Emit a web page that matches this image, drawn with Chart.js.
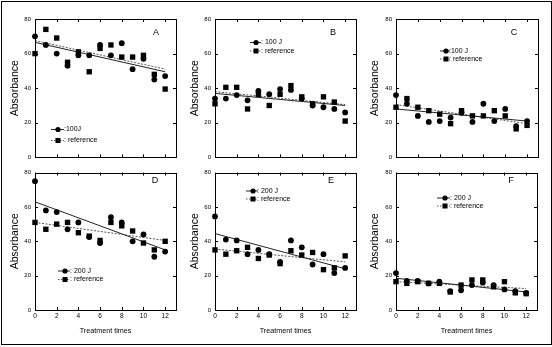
<!DOCTYPE html>
<html><head><meta charset="utf-8">
<script src="https://cdn.jsdelivr.net/npm/chart.js@4/dist/chart.umd.min.js"></script>
<style>
html,body{margin:0;padding:0;background:#fff;}
body{width:552px;height:347px;position:relative;overflow:hidden;}
#frame{position:absolute;left:1px;top:1px;width:551px;height:344px;border:1px solid #000;box-sizing:border-box;}
canvas{position:absolute;}
</style></head><body>
<div id="frame"></div>
<canvas id="cA"></canvas><canvas id="cB"></canvas><canvas id="cC"></canvas>
<canvas id="cD"></canvas><canvas id="cE"></canvas><canvas id="cF"></canvas>
<script>
// ---- data ----
const xValues = [0,1,2,3,4,5,6,7,8,9,10,11,12];
const xTickValues = [0,2,4,6,8,10,12];
const yTickValues = [0,20,40,60,80];

const a100 = [70,65,60,53,59,59,65,59,66,51,57,45,47];
const aRef = [60,74,69,55,61,49.5,63,65,58,58,59,48,39.5];
const aFit100 = [66.5,49.5];
const aFitRef = [67.5,51];

const b100 = [34,34,36,33,38.5,36.5,39.5,39,34,30,29,28,26];
const bRef = [31,40.5,40.5,28,36.5,30,36.5,41.5,35,31,35,32,21];
const bFit100 = [37,30];
const bFitRef = [38,30.5];

const c100 = [36,31,24,20.5,21,23,25.8,20.5,31,21,28,18,21];
const cRef = [29,34,29,27,25,19.5,27,24,24,27,24,16.5,18.5];
const cFit100 = [28,21];
const cFitRef = [30.5,19.5];

const d200 = [75,58,57,47,51,42.5,39,54,51,40,44,31,34];
const dRef = [51,47,50,51,45,43,40.5,51,49,46,39,35,40];
const dFit200 = [63,35];
const dFitRef = [51,40.5];

const e200 = [54.5,41,40.5,32.5,35,32.5,28,40.5,36.5,26.5,32.5,21.5,24.5];
const eRef = [35,32.5,34.5,36.5,30,32,27,34.5,32,33.5,23.5,24.5,31.5];
const eFit200 = [44.5,24];
const eFitRef = [35.5,28];

const f200 = [21.5,17,17,15.5,16.5,11,11.5,14.5,16,14.5,12,11,10];
const fRef = [16.5,15.5,16.5,15.5,15.5,10.5,14.5,17.5,17.5,13.5,16.5,10,9.5];
const fFit200 = [18.5,10.5];
const fFitRef = [16.5,12.5];

const panelLetters = ['A','B','C','D','E','F'];
const label100 = ': 100 J';
const label200 = ': 200 J';
const labelRef = ': reference';
const yTitle = 'Absorbance';
const xTitle = 'Treatment times';

// ---- drawing ----
const FONT = "'Liberation Sans', Arial, Helvetica, sans-serif";

const decoPlugin = {
  id: 'deco',
  afterDraw(chart, args, o) {
    const ctx = chart.ctx;
    const {left, right, top, bottom} = chart.chartArea;
    const xs = chart.scales.x, ys = chart.scales.y;
    ctx.save();
    ctx.strokeStyle = '#000';
    ctx.lineWidth = 1;
    ctx.strokeRect(Math.round(left)+0.5, Math.round(top)+0.5, Math.round(right-left), Math.round(bottom-top));
    ctx.beginPath();
    xTickValues.forEach(v => {
      const p = Math.round(xs.getPixelForValue(v)) + 0.5;
      ctx.moveTo(p, bottom); ctx.lineTo(p, bottom - 3);
      ctx.moveTo(p, top); ctx.lineTo(p, top + 3);
    });
    yTickValues.forEach(v => {
      const p = Math.round(ys.getPixelForValue(v)) + 0.5;
      ctx.moveTo(left, p); ctx.lineTo(left + 3, p);
      ctx.moveTo(right, p); ctx.lineTo(right - 3, p);
    });
    ctx.stroke();
    // panel letter
    ctx.fillStyle = '#000';
    ctx.font = '9px ' + FONT;
    ctx.textAlign = 'center';
    ctx.textBaseline = 'middle';
    ctx.fillText(o.letter, o.letterX, o.letterY);
    // legend
    const L = o.legend;
    ctx.font = '7px ' + FONT;
    ctx.textAlign = 'left';
    ctx.beginPath();
    ctx.strokeStyle = '#222';
    ctx.setLineDash([]);
    ctx.moveTo(L.x0, L.y1 + 0.5); ctx.lineTo(L.x1, L.y1 + 0.5);
    ctx.stroke();
    ctx.beginPath();
    ctx.strokeStyle = '#555';
    ctx.setLineDash([1.5,1.5]);
    ctx.moveTo(L.x0, L.y2 + 0.5); ctx.lineTo(L.x1, L.y2 + 0.5);
    ctx.stroke();
    ctx.setLineDash([]);
    ctx.beginPath();
    ctx.arc(L.mx, L.y1 + 0.5, 2.6, 0, Math.PI * 2);
    ctx.fill();
    ctx.fillRect(L.mx - 2.5, L.y2 - 2, 5, 5);
    ctx.fillText(L.text1, L.tx, L.y1 + 0.5);
    ctx.fillText(labelRef, L.tx, L.y2 + 0.5);
    ctx.restore();
  }
};

function makePanel(p) {
  const cv = document.getElementById(p.id);
  cv.width = p.w; cv.height = p.h;
  cv.style.left = p.cx + 'px'; cv.style.top = p.cy + 'px';
  cv.style.width = p.w + 'px'; cv.style.height = p.h + 'px';
  const pts = arr => xValues.map((x, i) => ({x: x, y: arr[i]}));
  const fit = arr => [{x: xValues[0], y: arr[0]}, {x: xValues[xValues.length-1], y: arr[1]}];
  const leg = Object.assign({}, p.legend);
  leg.x0 -= p.cx; leg.x1 -= p.cx; leg.mx -= p.cx; leg.tx -= p.cx;
  leg.y1 -= p.cy; leg.y2 -= p.cy;
  new Chart(cv, {
    type: 'scatter',
    data: {
      datasets: [
        {data: pts(p.circles), pointStyle: 'circle', pointRadius: 2.9, backgroundColor: '#000', borderColor: '#000', borderWidth: 0, showLine: false, clip: false},
        {data: pts(p.squares), pointStyle: 'rect', pointRadius: 3.8, backgroundColor: '#000', borderColor: '#000', borderWidth: 0, showLine: false, clip: false},
        {data: fit(p.fitMain), showLine: true, pointRadius: 0, borderColor: '#222', borderWidth: 1},
        {data: fit(p.fitRef), showLine: true, pointRadius: 0, borderColor: '#555', borderWidth: 1, borderDash: [2, 1.5]}
      ]
    },
    options: {
      responsive: false, animation: false, devicePixelRatio: 1,
      layout: {padding: p.pad},
      plugins: {legend: {display: false}, tooltip: {enabled: false},
        deco: {letter: p.letter, letterX: p.letterX - p.cx, letterY: p.letterY - p.cy, legend: leg}},
      scales: {
        x: {type: 'linear', min: 0, max: 13,
          afterBuildTicks: s => { s.ticks = xTickValues.map(v => ({value: v})); },
          afterFit: s => { s.height = p.xh; },
          grid: {display: false, drawTicks: false}, border: {display: false},
          ticks: {display: p.showX, color: '#000', font: {size: 6.5, family: FONT}, padding: 2, maxRotation: 0, autoSkip: false},
          title: {display: p.showX, text: xTitle, color: '#000', font: {size: 7.2, family: FONT}, padding: 0}
        },
        y: {type: 'linear', min: 0, max: 80,
          afterBuildTicks: s => { s.ticks = yTickValues.map(v => ({value: v})); },
          afterFit: s => { s.width = p.yw; },
          grid: {display: false, drawTicks: false}, border: {display: false},
          ticks: {color: '#000', font: {size: 6, family: FONT}, padding: 4},
          title: {display: true, text: yTitle, color: '#000', font: {size: 10.5, family: FONT}, padding: {top: 8.5, bottom: 0}}
        }
      }
    },
    plugins: [decoPlugin]
  });
}

const topPad = {left: 0, top: 19, bottom: 5};
const botPad = {left: 0, top: 4, bottom: 10};

makePanel({id: 'cA', cx: 0, cy: 0, w: 180, h: 165, yw: 35, xh: 0, showX: false,
  pad: Object.assign({right: 4}, topPad), circles: a100, squares: aRef, fitMain: aFit100, fitRef: aFitRef,
  letter: panelLetters[0], letterX: 156, letterY: 33,
  legend: {x0: 51, x1: 64, mx: 58, tx: 64, y1: 129, y2: 140, text1: ':100J'}});
makePanel({id: 'cB', cx: 180, cy: 0, w: 180, h: 165, yw: 35, xh: 0, showX: false,
  pad: Object.assign({right: 3}, topPad), circles: b100, squares: bRef, fitMain: bFit100, fitRef: bFitRef,
  letter: panelLetters[1], letterX: 333, letterY: 33,
  legend: {x0: 250, x1: 261, mx: 256, tx: 261, y1: 42, y2: 50.5, text1: label100}});
makePanel({id: 'cC', cx: 360, cy: 0, w: 192, h: 165, yw: 36, xh: 0, showX: false,
  pad: Object.assign({right: 14}, topPad), circles: c100, squares: cRef, fitMain: cFit100, fitRef: cFitRef,
  letter: panelLetters[2], letterX: 514, letterY: 33,
  legend: {x0: 440, x1: 450, mx: 446, tx: 449, y1: 50.5, y2: 58.5, text1: ':100 J'}});
makePanel({id: 'cD', cx: 0, cy: 165, w: 180, h: 180, yw: 35, xh: 25, showX: true,
  pad: Object.assign({right: 4}, botPad), circles: d200, squares: dRef, fitMain: dFit200, fitRef: dFitRef,
  letter: panelLetters[3], letterX: 155, letterY: 181,
  legend: {x0: 58, x1: 70, mx: 65, tx: 70, y1: 270.5, y2: 279, text1: label200}});
makePanel({id: 'cE', cx: 180, cy: 165, w: 180, h: 180, yw: 35, xh: 25, showX: true,
  pad: Object.assign({right: 3}, botPad), circles: e200, squares: eRef, fitMain: eFit200, fitRef: eFitRef,
  letter: panelLetters[4], letterX: 331, letterY: 181,
  legend: {x0: 246, x1: 258, mx: 253, tx: 257, y1: 190.5, y2: 198.5, text1: label200}});
makePanel({id: 'cF', cx: 360, cy: 165, w: 192, h: 180, yw: 36, xh: 25, showX: true,
  pad: Object.assign({right: 15}, botPad), circles: f200, squares: fRef, fitMain: fFit200, fitRef: fFitRef,
  letter: panelLetters[5], letterX: 511, letterY: 181,
  legend: {x0: 437, x1: 450, mx: 445, tx: 450, y1: 197.5, y2: 205.5, text1: label200}});
</script>
</body></html>
